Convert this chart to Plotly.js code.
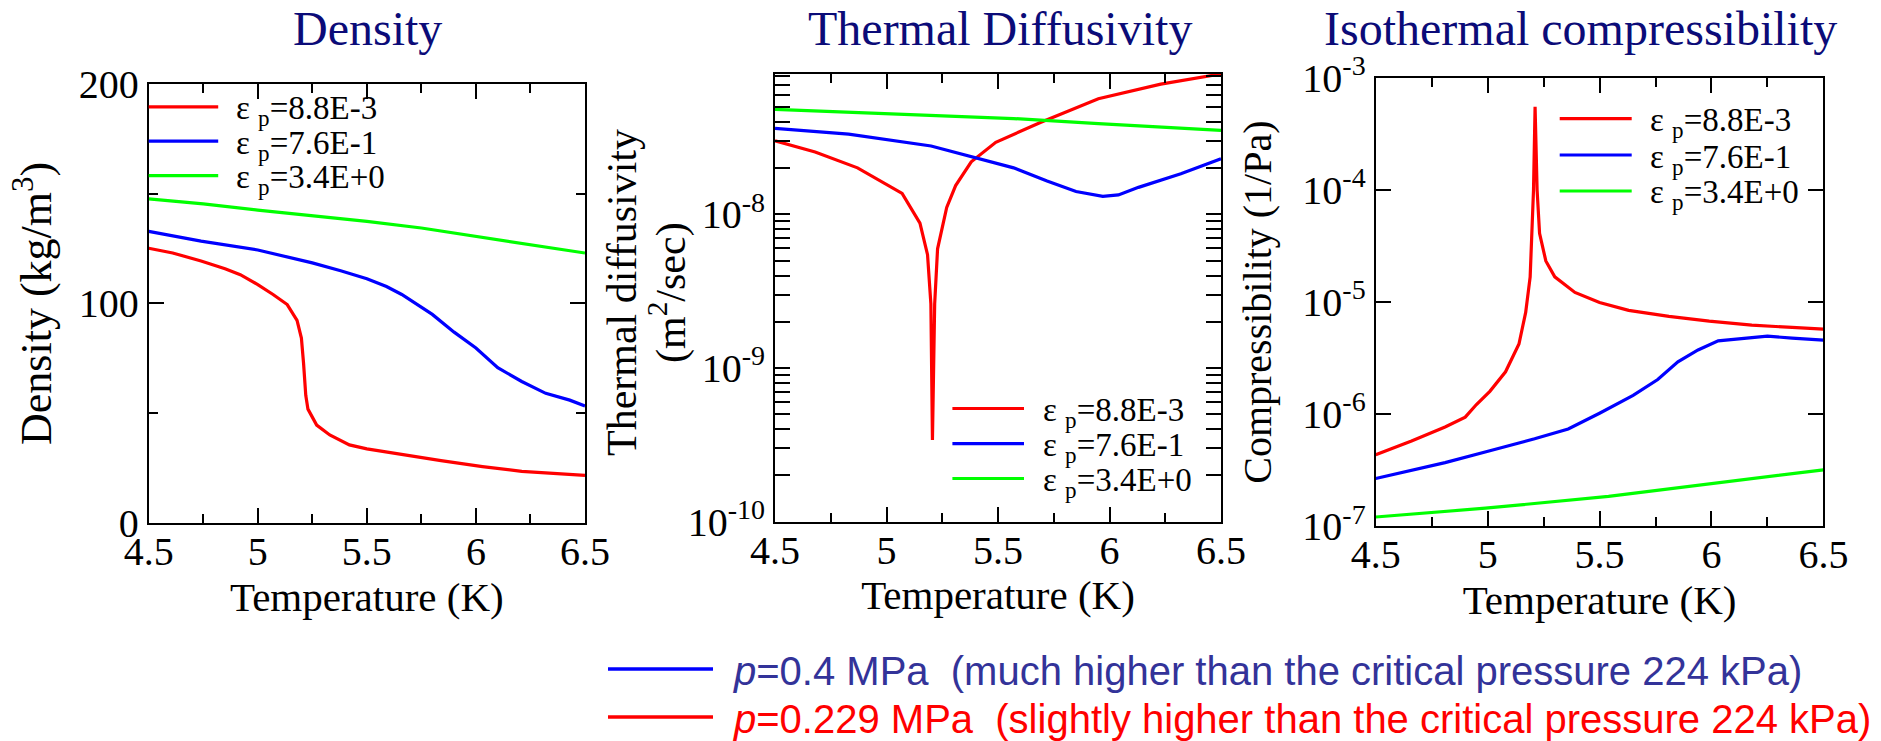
<!DOCTYPE html>
<html><head><meta charset="utf-8">
<script src="https://cdn.plot.ly/plotly-3.0.1.min.js"></script>
<style>html,body{margin:0;padding:0;background:#fff}</style>
</head><body><div id="chart" style="width:1881px;height:741px"></div>
<script>
// ---------- data ----------
const seriesLabels = ['ε <sub>p</sub>=8.8E-3', 'ε <sub>p</sub>=7.6E-1', 'ε <sub>p</sub>=3.4E+0'];
const seriesColors = ['#ff0000', '#0000ff', '#00ff00'];
const panelTitles = ['Density', 'Thermal Diffusivity', 'Isothermal compressibility'];
const xTitle = 'Temperature (K)';
const yTitles = ['Density (kg/m<sup>3</sup>)', ['Thermal diffusivity', '(m<sup>2</sup>/sec)'], 'Compressibility (1/Pa)'];
const xTickVals = [4.5, 5, 5.5, 6, 6.5];
const xTickText = ['4.5', '5', '5.5', '6', '6.5'];

// Density (kg/m3)
const densT_red = [4.5, 4.61, 4.74, 4.85, 4.92, 5.0, 5.07, 5.135, 5.18, 5.2, 5.21, 5.22, 5.23, 5.27, 5.33, 5.42, 5.5, 5.66, 5.84, 6.03, 6.21, 6.5];
const dens_red  = [125.2, 123.0, 119.4, 115.8, 113.1, 108.6, 104.1, 99.5, 92.3, 84.2, 72.5, 58.1, 51.8, 44.5, 40.0, 35.5, 33.7, 31.0, 28.3, 25.6, 23.4, 21.6];
const densT_blue = [4.5, 4.74, 5.0, 5.25, 5.38, 5.5, 5.59, 5.66, 5.8, 5.9, 6.0, 6.1, 6.21, 6.32, 6.43, 6.5];
const dens_blue  = [132.9, 128.4, 124.4, 118.5, 114.9, 111.3, 107.7, 104.1, 95.0, 86.9, 79.7, 70.7, 64.4, 59.0, 55.9, 53.2];
const densT_green = [4.5, 4.75, 5.0, 5.25, 5.5, 5.75, 6.0, 6.25, 6.5];
const dens_green  = [147.7, 145.4, 142.6, 140.1, 137.4, 134.4, 130.6, 127.1, 123.0];

// Thermal diffusivity (m2/s)
const diffT_red = [4.5, 4.68, 4.87, 4.98, 5.07, 5.15, 5.184, 5.199, 5.206, 5.216, 5.229, 5.27, 5.31, 5.38, 5.49, 5.69, 5.95, 6.23, 6.5];
const diff_red  = [3.01e-8, 2.55e-8, 2.01e-8, 1.63e-8, 1.37e-8, 8.78e-9, 5.47e-9, 2.61e-9, 3.39e-10, 2.61e-9, 5.97e-9, 1.11e-8, 1.54e-8, 2.20e-8, 2.95e-8, 3.97e-8, 5.66e-8, 7.05e-8, 8.22e-8];
const diffT_blue = [4.5, 4.83, 5.2, 5.41, 5.57, 5.72, 5.85, 5.97, 6.04, 6.13, 6.32, 6.5];
const diff_blue  = [3.63e-8, 3.33e-8, 2.79e-8, 2.33e-8, 2.01e-8, 1.65e-8, 1.41e-8, 1.31e-8, 1.34e-8, 1.50e-8, 1.84e-8, 2.30e-8];
const diffT_green = [4.5, 5.0, 5.3, 5.57, 5.95, 6.5];
const diff_green  = [4.83e-8, 4.53e-8, 4.35e-8, 4.21e-8, 3.90e-8, 3.53e-8];

// Isothermal compressibility (1/Pa)
const compT_red = [4.5, 4.66, 4.81, 4.9, 4.95, 5.01, 5.08, 5.14, 5.17, 5.19, 5.205, 5.212, 5.221, 5.232, 5.26, 5.3, 5.39, 5.5, 5.63, 5.81, 5.99, 6.18, 6.36, 6.5];
const comp_red  = [4.35e-7, 5.78e-7, 7.68e-7, 9.41e-7, 1.22e-6, 1.60e-6, 2.39e-6, 4.23e-6, 8.09e-6, 1.68e-5, 1.0e-4, 5.53e-4, 1.0e-4, 4.11e-5, 2.33e-5, 1.68e-5, 1.22e-5, 9.91e-6, 8.43e-6, 7.46e-6, 6.77e-6, 6.24e-6, 5.94e-6, 5.75e-6];
const compT_blue = [4.5, 4.81, 5.01, 5.21, 5.36, 5.5, 5.65, 5.76, 5.85, 5.94, 6.03, 6.14, 6.25, 6.36, 6.5];
const comp_blue  = [2.67e-7, 3.70e-7, 4.72e-7, 6.03e-7, 7.38e-7, 1.02e-6, 1.47e-6, 2.04e-6, 2.93e-6, 3.74e-6, 4.51e-6, 4.77e-6, 4.97e-6, 4.77e-6, 4.58e-6];
const compT_green = [4.5, 4.99, 5.54, 5.99, 6.5];
const comp_green  = [1.21e-7, 1.45e-7, 1.85e-7, 2.37e-7, 3.19e-7];

// bottom legend
const pressLabels = ['<i>p</i>=0.4 MPa  (much higher than the critical pressure 224 kPa)',
                     '<i>p</i>=0.229 MPa  (slightly higher than the critical pressure 224 kPa)'];
const pressLineColors = ['#0000ff', '#ff0000'];
const pressTextColors = ['#333399', '#ff0000'];

// ---------- build ----------
const W = 1881, H = 741;
const PX = v => v / W, PY = v => 1 - v / H;
const serif = 'Liberation Serif, Times New Roman, serif';

const panelData = [
  [[densT_red, dens_red], [densT_blue, dens_blue], [densT_green, dens_green]],
  [[diffT_red, diff_red], [diffT_blue, diff_blue], [diffT_green, diff_green]],
  [[compT_red, comp_red], [compT_blue, comp_blue], [compT_green, comp_green]]
];
const axSuffix = ['', '2', '3'];
const traces = [];
panelData.forEach((pd, p) => {
  pd.forEach((s, i) => {
    traces.push({
      x: s[0], y: s[1], type: 'scatter', mode: 'lines', name: seriesLabels[i],
      line: {color: seriesColors[i], width: 3.2},
      xaxis: 'x' + axSuffix[p], yaxis: 'y' + axSuffix[p], showlegend: false
    });
  });
});

// plot boxes in pixels [left, right, top, bottom]
const boxes = [[148.7, 585, 84.2, 522.7], [775, 1221, 73.9, 521.5], [1375.7, 1823.4, 77.9, 526.3]];

const baseAxis = {
  showline: true, mirror: 'ticks', linecolor: '#000', linewidth: 2,
  ticks: 'inside', ticklen: 15, tickwidth: 2, tickcolor: '#000',
  showgrid: false, zeroline: false,
  tickfont: {family: serif, size: 40, color: '#000'}
};

function xAxis(p) {
  return Object.assign({}, baseAxis, {
    domain: [PX(boxes[p][0]), PX(boxes[p][1])], anchor: 'y' + axSuffix[p],
    range: [4.5, 6.5], tickmode: 'array', tickvals: xTickVals, ticktext: xTickText,
    ticklabelstandoff: -8,
    minor: {ticks: 'inside', ticklen: 9, tickwidth: 2, tickcolor: '#000', dtick: 0.25, tick0: 4.5, showgrid: false},
    title: {text: xTitle, font: {family: serif, size: 41, color: '#000'}, standoff: 6}
  });
}
function logTicks(lo, hi) {
  const v = [], t = [];
  for (let k = lo; k <= hi; k++) { v.push(Math.pow(10, k)); t.push('10<sup>' + k + '</sup>'); }
  return [v, t];
}
function logMinor(lo, hi) {
  const v = [];
  for (let k = lo; k < hi; k++) for (let m = 2; m <= 9; m++) v.push(m * Math.pow(10, k));
  return v;
}
const yTicks2 = logTicks(-10, -8), yTicks3 = logTicks(-7, -3);

const layout = {
  width: W, height: H, margin: {l: 0, r: 0, t: 0, b: 0},
  paper_bgcolor: '#fff', plot_bgcolor: '#fff', showlegend: false,
  xaxis: xAxis(0), xaxis2: xAxis(1), xaxis3: xAxis(2),
  yaxis: Object.assign({}, baseAxis, {
    domain: [PY(boxes[0][3]), PY(boxes[0][2])], anchor: 'x',
    range: [0, 200], tickmode: 'array', tickvals: [0, 100, 200], ticktext: ['0', '100', '200'],
    minor: {ticks: 'inside', ticklen: 9, tickwidth: 2, tickcolor: '#000', dtick: 50, showgrid: false},
    title: {text: yTitles[0], font: {family: serif, size: 44, color: '#000'}, standoff: 13}
  }),
  yaxis2: Object.assign({}, baseAxis, {
    domain: [PY(boxes[1][3]), PY(boxes[1][2])], anchor: 'x2', type: 'log',
    range: [-10, -7.085], tickmode: 'array', tickvals: yTicks2[0], ticktext: yTicks2[1],
    minor: {ticks: 'inside', ticklen: 15, tickwidth: 2, tickcolor: '#000', tickmode: 'array', tickvals: logMinor(-10, -7), showgrid: false}
  }),
  yaxis3: Object.assign({}, baseAxis, {
    domain: [PY(boxes[2][3]), PY(boxes[2][2])], anchor: 'x3', type: 'log',
    range: [-7, -3], tickmode: 'array', tickvals: yTicks3[0], ticktext: yTicks3[1],
    title: {text: yTitles[2], font: {family: serif, size: 40, color: '#000'}, standoff: 18}
  }),
  shapes: [], annotations: []
};

// two-line y title of the middle panel (tight line spacing as in the original)
const y2TitleX = [622, 668];
yTitles[1].forEach((t, k) => {
  layout.annotations.push({
    text: t, xref: 'paper', yref: 'paper', x: PX(y2TitleX[k]), y: PY(293),
    xanchor: 'center', yanchor: 'middle', textangle: -90, showarrow: false,
    font: {family: serif, size: 42, color: '#000'}
  });
});

// panel titles [centerX, centerY] in pixels
const titlePos = [[367, 28], [1000, 28], [1580, 28]];
panelTitles.forEach((t, p) => {
  layout.annotations.push({
    text: t, xref: 'paper', yref: 'paper', x: PX(titlePos[p][0]), y: PY(titlePos[p][1]),
    xanchor: 'center', yanchor: 'middle', showarrow: false,
    font: {family: serif, size: 48, color: '#0b0b78'}
  });
});

// in-panel legends: [lineX0, lineX1, textX, [y0,y1,y2]]
const legendPos = [
  [148.7, 218.2, 234, [106.8, 141.2, 175.6]],
  [952.4, 1024, 1041, [408.5, 443.7, 478.5]],
  [1559.7, 1631.7, 1648, [118.6, 155.0, 191.0]]
];
legendPos.forEach(lp => {
  seriesLabels.forEach((lab, i) => {
    layout.shapes.push({type: 'line', xref: 'paper', yref: 'paper',
      x0: PX(lp[0]), x1: PX(lp[1]), y0: PY(lp[3][i]), y1: PY(lp[3][i]),
      line: {color: seriesColors[i], width: 3.2}});
    layout.annotations.push({text: lab, xref: 'paper', yref: 'paper',
      x: PX(lp[2]), y: PY(lp[3][i] + 4), xanchor: 'left', yanchor: 'middle', showarrow: false,
      font: {family: serif, size: 33, color: '#000'}});
  });
});

// bottom legend
const pressY = [669, 717];
pressLabels.forEach((lab, i) => {
  layout.shapes.push({type: 'line', xref: 'paper', yref: 'paper',
    x0: PX(608), x1: PX(713), y0: PY(pressY[i]), y1: PY(pressY[i]),
    line: {color: pressLineColors[i], width: 3.5}});
  layout.annotations.push({text: lab, xref: 'paper', yref: 'paper',
    x: PX(731), y: PY(pressY[i] + 2), xanchor: 'left', yanchor: 'middle', showarrow: false,
    font: {family: 'Liberation Sans, Arial, sans-serif', size: 40, color: pressTextColors[i]}});
});

Plotly.newPlot('chart', traces, layout, {displayModeBar: false, staticPlot: true});
</script></body></html>
